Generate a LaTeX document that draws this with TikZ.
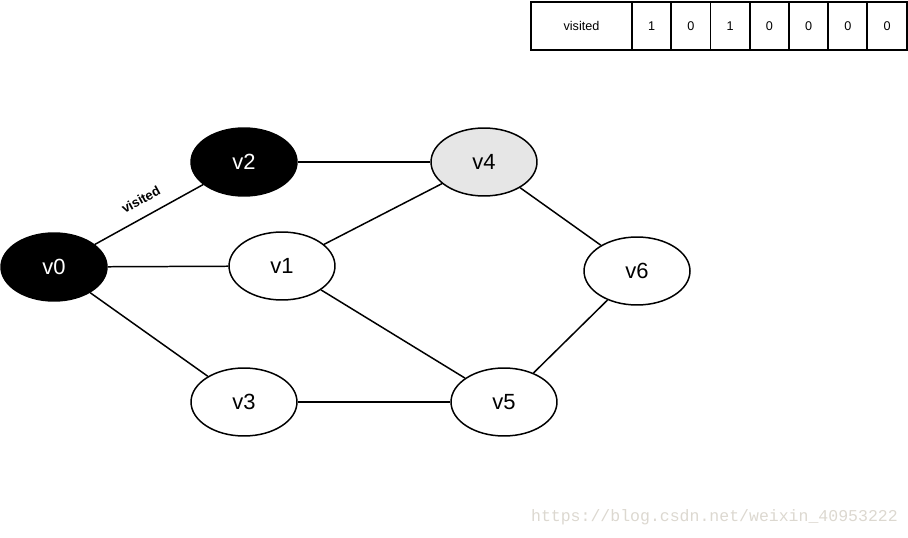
\documentclass[tikz,border=0pt]{standalone}
\usepackage{fontspec}
\setmainfont{Liberation Sans}
\newfontfamily\markfont{Liberation Mono}
\usetikzlibrary{
    shapes.geometric,
    positioning,
}
\definecolor{vgrey}{HTML}{E6E6E6}
\definecolor{markgrey}{HTML}{DCD8D0}
\tikzset{
    vtx/.style={ellipse, draw=black, line width=0.85pt, minimum width=2.12cm, minimum height=1.36cm, font=\fontsize{12.5}{14}\selectfont},
    seen/.style={vtx, fill=black, text=white},
    link/.style={draw=black, line width=0.85pt},
    cell/.style={draw=black, line width=1.1pt, minimum width=0.785cm, minimum height=0.96cm, outer sep=0pt, inner sep=0pt, font=\fontsize{7.2}{8}\selectfont},
}

\begin{document}
\begin{tikzpicture}[x=0.02cm, y=-0.02cm]
    \useasboundingbox (0,0) rectangle (908,537);

    \node[seen] (v0) at (54,267) {v0};
    \node[vtx] (v1) at (282,266) {v1};
    \node[seen] (v2) at (244,162) {v2};
    \node[vtx] (v3) at (244,402) {v3};
    \node[vtx, fill=vgrey] (v4) at (484,162) {v4};
    \node[vtx] (v5) at (504,402) {v5};
    \node[vtx] (v6) at (637,271) {v6};

    \draw[link] (v0) -- node[pos=0.5, sloped, above=5.5pt, inner sep=1pt, font=\fontsize{7.5}{8}\selectfont\bfseries] {visited} (v2);
    \draw[link] (v0) -- (v1);
    \draw[link] (v0) -- (v3);
    \draw[link] (v2) -- (v4);
    \draw[link] (v1) -- (v4);
    \draw[link] (v1) -- (v5);
    \draw[link] (v4) -- (v6);
    \draw[link] (v6) -- (v5);
    \draw[link] (v3) -- (v5);

    \node[cell, minimum width=2.02cm] (c0) at (581.5,26) {visited};
    \node[cell, right=0pt of c0] (c1) {1};
    \node[cell, right=0pt of c1] (c2) {0};
    \node[cell, right=0pt of c2] (c3) {1};
    \node[cell, right=0pt of c3] (c4) {0};
    \node[cell, right=0pt of c4] (c5) {0};
    \node[cell, right=0pt of c5] (c6) {0};
    \node[cell, right=0pt of c6] (c7) {0};

    \node[anchor=east, text=markgrey, font=\markfont\fontsize{9.4}{11}\selectfont] (mark) at (904,517) {https://blog.csdn.net/weixin\_40953222};
\end{tikzpicture}
\end{document}
